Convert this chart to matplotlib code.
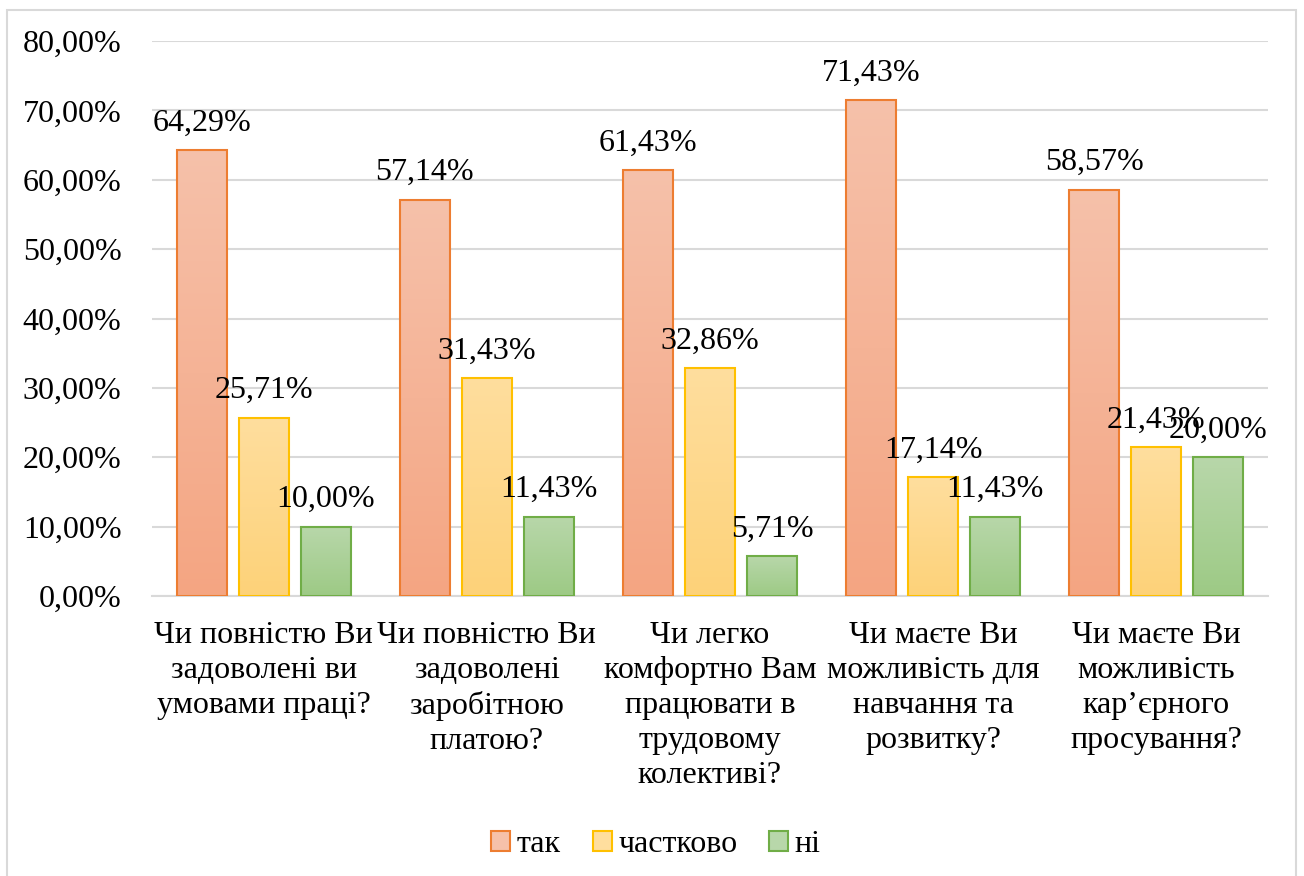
import numpy as np
import matplotlib
matplotlib.use("Agg")
import matplotlib.pyplot as plt
from matplotlib.patches import Rectangle
from matplotlib.colors import LinearSegmentedColormap

plt.rcParams['font.family'] = ['Liberation Serif', 'DejaVu Serif']

# питання анкети
categories = [
    "Чи повністю Ви\nзадоволені ви\nумовами праці?",
    "Чи повністю Ви\nзадоволені\nзаробітною\nплатою?",
    "Чи легко\nкомфортно Вам\nпрацювати в\nтрудовому\nколективі?",
    "Чи маєте Ви\nможливість для\nнавчання та\nрозвитку?",
    "Чи маєте Ви\nможливість\nкар’єрного\nпросування?",
]
series_names = ["так", "частково", "ні"]
yes_vals = [64.29, 57.14, 61.43, 71.43, 58.57]
partly_vals = [25.71, 31.43, 32.86, 17.14, 21.43]
no_vals = [10.00, 11.43, 5.71, 11.43, 20.00]
y_ticks = [0, 10, 20, 30, 40, 50, 60, 70, 80]

# кольори: (верх градієнта, низ градієнта, контур)
styles = [
    ("#F6C1AA", "#F4A582", "#ED7D31"),
    ("#FFDE9E", "#FDD279", "#FFC000"),
    ("#B8D7AA", "#9DCA85", "#70AD47"),
]

def fmt(v):
    return f"{v:.2f}".replace(".", ",") + "%"

fig = plt.figure(figsize=(13.04, 8.76), dpi=100)
ax = fig.add_axes([152 / 1304, 1 - 596 / 876, 1116 / 1304, 555 / 876])

x = np.arange(len(categories))
width = 0.224
offsets = [-0.278, 0, 0.278]
all_vals = [yes_vals, partly_vals, no_vals]

for vals, off, (top, bot, edge), name in zip(all_vals, offsets, styles, series_names):
    bars = ax.bar(x + off, vals, width, facecolor="none", edgecolor=edge,
                  linewidth=1.5, zorder=3, label=name)
    cmap = LinearSegmentedColormap.from_list(name, [bot, top])
    grad = np.linspace(0, 1, 256).reshape(-1, 1)
    for b, v in zip(bars, vals):
        x0 = b.get_x()
        ax.imshow(grad, cmap=cmap, origin="lower", aspect="auto",
                  extent=[x0, x0 + width, 0, v], zorder=2)
        ax.annotate(fmt(v), (b.get_x() + width / 2, v), xytext=(0, 9),
                    textcoords="offset points", ha="center", va="bottom",
                    fontsize=23, zorder=5)

ax.set_xlim(-0.5, len(categories) - 0.5)
ax.set_ylim(0, 80)
ax.set_yticks(y_ticks)
ax.set_yticklabels([fmt(t) for t in y_ticks], fontsize=23)
ax.set_xticks(x)
ax.set_xticklabels(categories, fontsize=23, linespacing=1.27)
ax.tick_params(axis="both", length=0)
ax.tick_params(axis="y", pad=22)
ax.tick_params(axis="x", pad=18)

ax.grid(axis="y", color="#D9D9D9", linewidth=1.5, zorder=0)
ax.set_axisbelow(True)
for s in ["top", "right", "left"]:
    ax.spines[s].set_visible(False)
ax.spines["bottom"].set_color("#D9D9D9")
ax.spines["bottom"].set_linewidth(1.5)

handles = [Rectangle((0, 0), 1, 1, facecolor=top, edgecolor=edge, linewidth=1.5)
           for top, bot, edge in styles]
fig.legend(handles, series_names, loc="center", bbox_to_anchor=(0.503, 1 - 845 / 876),
           ncol=3, frameon=False, fontsize=23, handlelength=0.6, handleheight=0.6,
           handletextpad=0.2, columnspacing=1.0)

# рамка області діаграми
fig.patches.append(Rectangle((7 / 1304, -0.05), 1289 / 1304, 1.05 - 10 / 876,
                             transform=fig.transFigure, fill=False,
                             edgecolor="#D9D9D9", linewidth=1.5))

fig.savefig("out.png", dpi=100)
